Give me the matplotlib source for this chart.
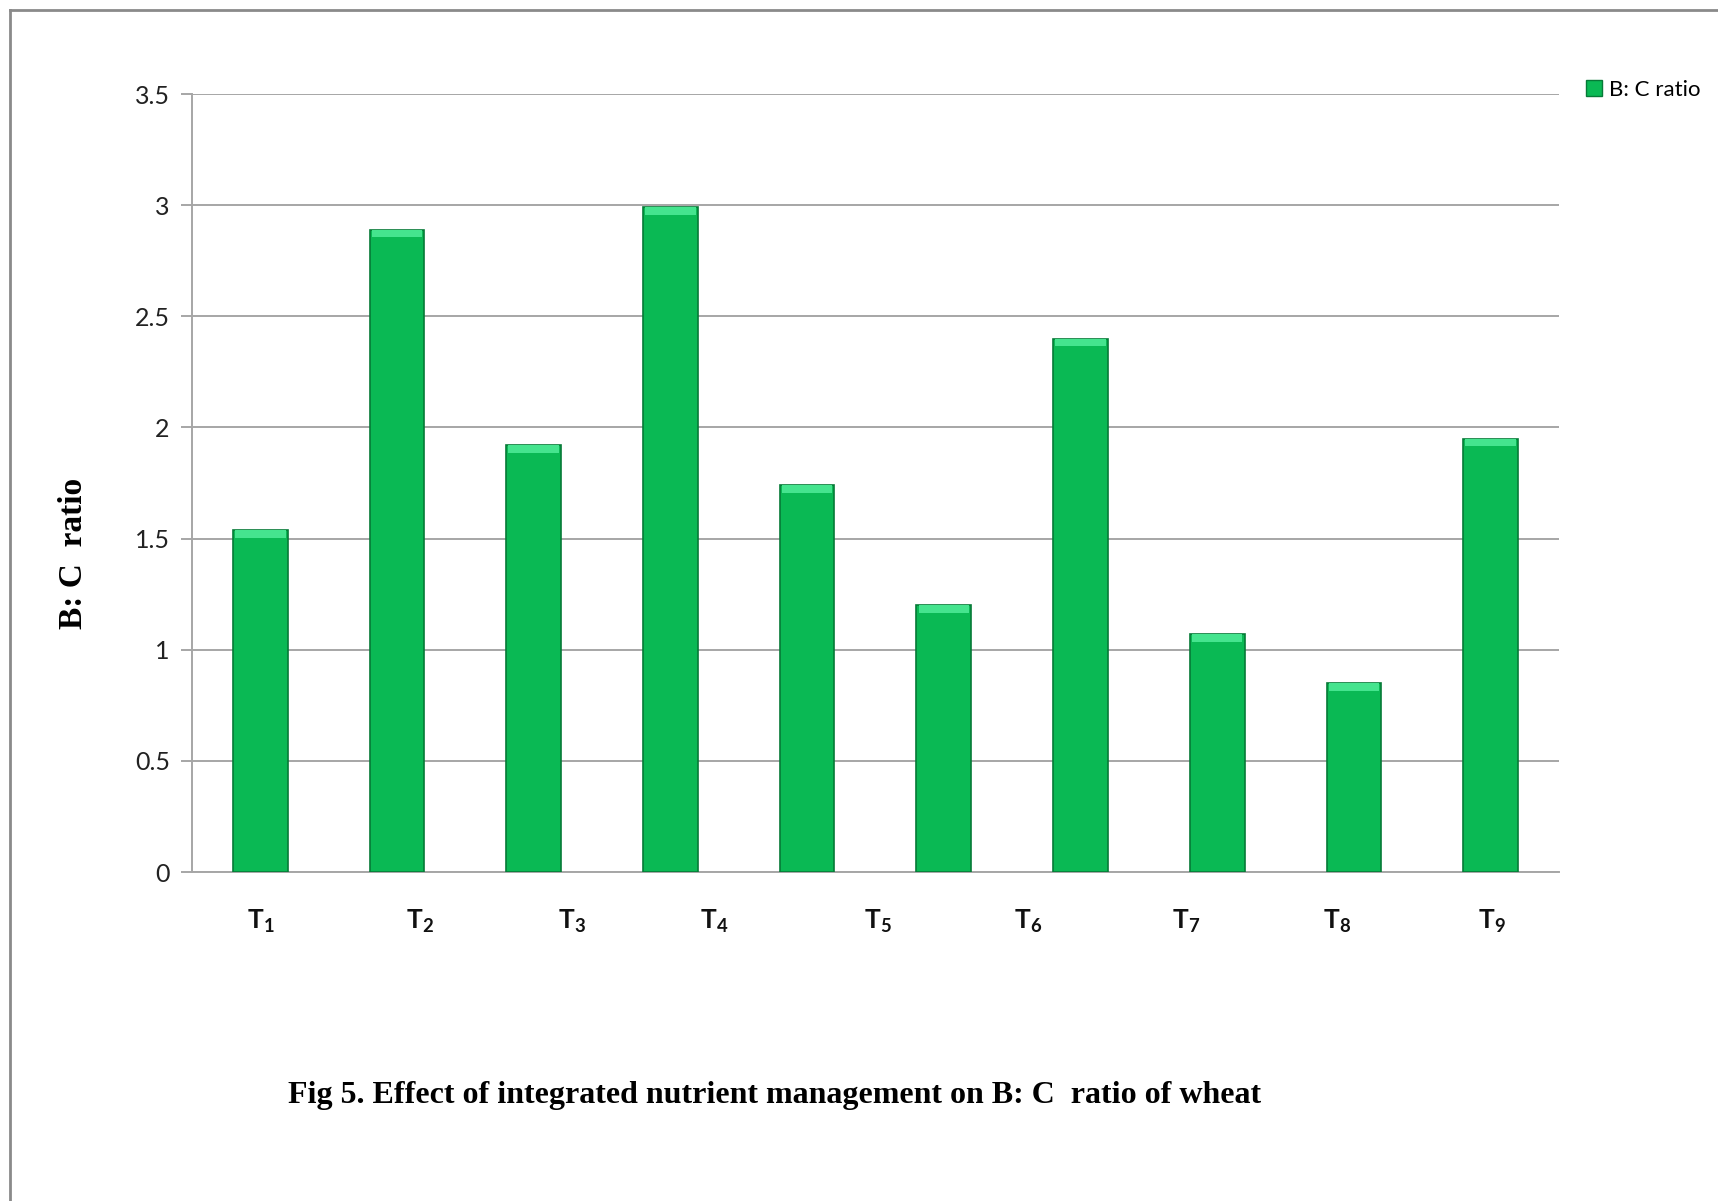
"""
B: C ratio bar chart (Fig 5), redrawn with matplotlib.
"""

import matplotlib
matplotlib.use("Agg")
import matplotlib.pyplot as plt
from matplotlib.lines import Line2D
from matplotlib.patches import Patch

# bar values (10 bars, 9 text labels)
bc_ratio = [1.54, 2.89, 1.92, 2.99, 1.74, 1.20, 2.40, 1.07, 0.85, 1.95]
treatments = ["T$_1$", "T$_2$", "T$_3$", "T$_4$", "T$_5$", "T$_6$", "T$_7$", "T$_8$", "T$_9$"]
# labels were typed as loose text boxes, not on the category ticks
label_x = [0.0, 1.17, 2.28, 3.32, 4.52, 5.62, 6.77, 7.88, 9.01]
y_ticks = [0, 0.5, 1, 1.5, 2, 2.5, 3, 3.5]
y_tick_labels = ["0", "0.5", "1", "1.5", "2", "2.5", "3", "3.5"]

GREEN = "#0ab954"
GREEN_TOP = "#45e48e"
GREEN_EDGE = "#067a37"
GRID = "#a6a6a6"

plt.rcParams["font.family"] = ["Lato", "DejaVu Sans"]
plt.rcParams["mathtext.fontset"] = "custom"
plt.rcParams["mathtext.rm"] = "Lato"
plt.rcParams["mathtext.bf"] = "Lato:bold"
plt.rcParams["mathtext.default"] = "regular"

fig = plt.figure(figsize=(17.18, 12.01), dpi=100)
ax = fig.add_axes([0.1118, 0.2739, 0.9074 - 0.1118, 0.9217 - 0.2739])

x = list(range(len(bc_ratio)))
ax.bar(x, bc_ratio, width=0.4, color=GREEN, edgecolor=GREEN_EDGE, linewidth=1.2, zorder=3)
# light bevel at the top of each bar
top_h = 0.035
ax.bar(x, [top_h] * len(bc_ratio), bottom=[v - top_h for v in bc_ratio], width=0.37,
       color=GREEN_TOP, linewidth=0, zorder=4)

ax.set_xlim(-0.5, 9.5)
ax.set_ylim(0, 3.5)
ax.set_yticks(y_ticks)
ax.set_yticklabels(y_tick_labels, fontsize=18, color="#222222")
ax.set_xticks([])
ax.yaxis.grid(True, color=GRID, linewidth=1.4, zorder=0)
ax.tick_params(axis="y", length=8, width=1.4, color=GRID, pad=8)

for side in ["top", "right"]:
    ax.spines[side].set_visible(False)
ax.spines["left"].set_color(GRID)
ax.spines["left"].set_linewidth(1.4)
ax.spines["bottom"].set_color(GRID)
ax.spines["bottom"].set_linewidth(1.4)

for lx, lab in zip(label_x, treatments):
    ax.text(lx, -0.22, lab, ha="center", va="center", fontsize=19, fontweight="bold",
            color="#111111", transform=ax.transData)

fig.text(74 / 1718, 1 - 553 / 1201, "B: C  ratio", rotation=90, ha="center", va="center",
         fontsize=24, fontweight="bold", family="Liberation Serif")

fig.text(288 / 1718, 1 - 1096 / 1201,
         "Fig 5. Effect of integrated nutrient management on B: C  ratio of wheat",
         ha="left", va="center", fontsize=23, fontweight="bold", family="Liberation Serif")

handle = Patch(facecolor=GREEN, edgecolor=GREEN_EDGE, linewidth=1)
fig.legend([handle], ["B: C ratio"], loc="center left", bbox_to_anchor=(1586 / 1718, 1 - 90 / 1201),
           frameon=False, fontsize=16, handlelength=0.7, handleheight=0.7, handletextpad=0.35,
           borderaxespad=0, borderpad=0)

# outer chart frame (only left and top edges show)
fig.add_artist(Line2D([10 / 1718, 10 / 1718], [0, 1 - 10 / 1201], transform=fig.transFigure,
                      color="#8a8a8a", linewidth=2))
fig.add_artist(Line2D([10 / 1718, 1], [1 - 10 / 1201, 1 - 10 / 1201], transform=fig.transFigure,
                      color="#8a8a8a", linewidth=2))

fig.savefig("out.png", dpi=100)
